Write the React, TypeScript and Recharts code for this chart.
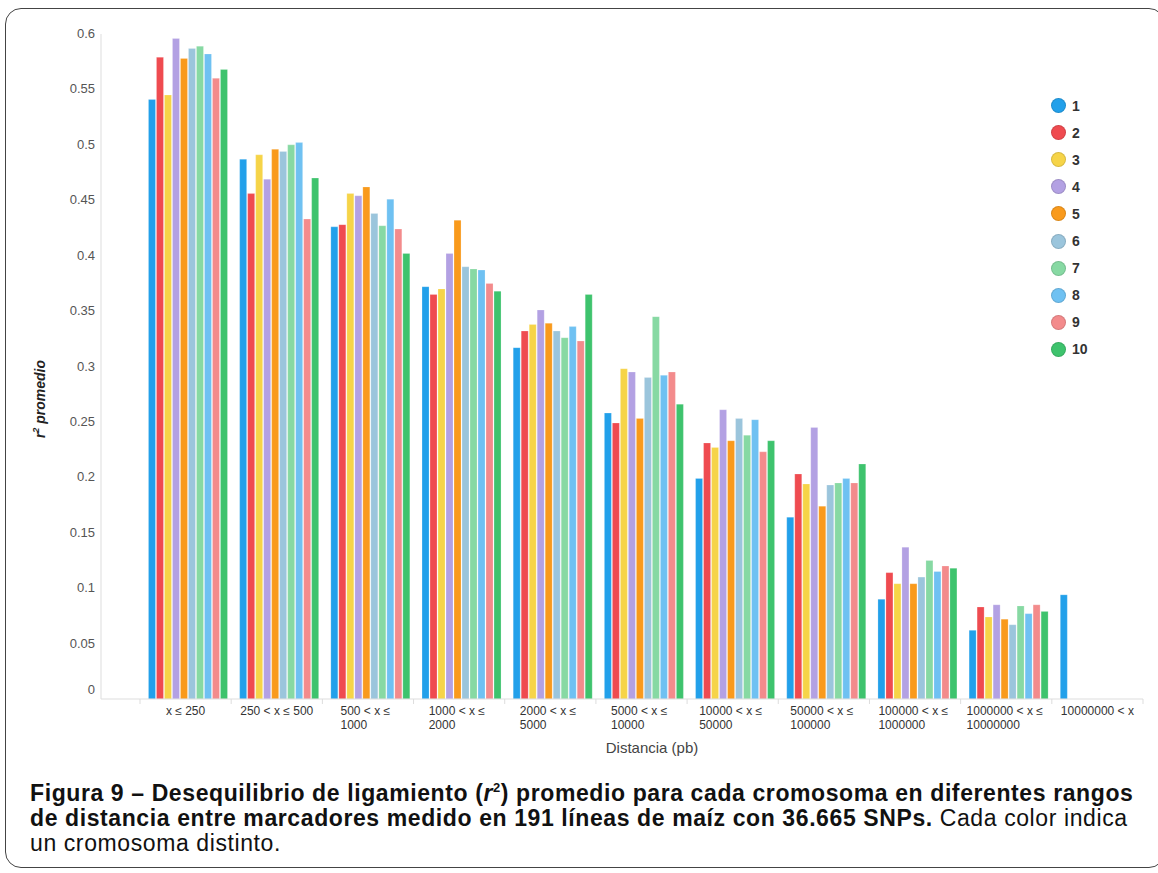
import React from 'react'
import { BarChart, Bar, XAxis, YAxis, Label } from 'recharts'

const categories = [
  'x ≤ 250',
  '250 < x ≤ 500',
  '500 < x ≤|1000',
  '1000 < x ≤|2000',
  '2000 < x ≤|5000',
  '5000 < x ≤|10000',
  '10000 < x ≤|50000',
  '50000 < x ≤|100000',
  '100000 < x ≤|1000000',
  '1000000 < x ≤|10000000',
  '10000000 < x',
]

const crom1 = [0.541, 0.487, 0.426, 0.372, 0.317, 0.258, 0.199, 0.164, 0.090, 0.062, 0.094]
const crom2 = [0.579, 0.456, 0.428, 0.365, 0.332, 0.249, 0.231, 0.203, 0.114, 0.083, null]
const crom3 = [0.545, 0.491, 0.456, 0.370, 0.338, 0.298, 0.227, 0.194, 0.104, 0.074, null]
const crom4 = [0.596, 0.469, 0.454, 0.402, 0.351, 0.295, 0.261, 0.245, 0.137, 0.085, null]
const crom5 = [0.578, 0.496, 0.462, 0.432, 0.339, 0.253, 0.233, 0.174, 0.104, 0.072, null]
const crom6 = [0.587, 0.494, 0.438, 0.390, 0.332, 0.290, 0.253, 0.193, 0.110, 0.067, null]
const crom7 = [0.589, 0.500, 0.427, 0.388, 0.326, 0.345, 0.238, 0.195, 0.125, 0.084, null]
const crom8 = [0.582, 0.502, 0.451, 0.387, 0.336, 0.292, 0.252, 0.199, 0.115, 0.077, null]
const crom9 = [0.560, 0.433, 0.424, 0.375, 0.323, 0.295, 0.223, 0.195, 0.120, 0.085, null]
const crom10 = [0.568, 0.470, 0.402, 0.368, 0.365, 0.266, 0.233, 0.212, 0.118, 0.079, null]

const seriesNames = ['1', '2', '3', '4', '5', '6', '7', '8', '9', '10']
const seriesValues = [crom1, crom2, crom3, crom4, crom5, crom6, crom7, crom8, crom9, crom10]
const colors = [
  '#22a0ea',
  '#ef4b50',
  '#f6d448',
  '#b3a1e3',
  '#f99a1c',
  '#9bc5dc',
  '#87d9a3',
  '#6fc1f2',
  '#f38b8c',
  '#3ec36d',
]

const yTicks = [0, 0.05, 0.1, 0.15, 0.2, 0.25, 0.3, 0.35, 0.4, 0.45, 0.5, 0.55, 0.6]

const data = categories.map((c, i) => {
  const row: Record<string, any> = { name: c }
  seriesNames.forEach((s, j) => {
    row['c' + s] = seriesValues[j][i]
  })
  return row
})

const FONT = '"Liberation Sans", Arial, sans-serif'

// plot geometry
const PLOT_LEFT = 101
const PLOT_RIGHT = 1143
const PAD_LEFT = 39
const BAND = (PLOT_RIGHT - PLOT_LEFT - PAD_LEFT) / categories.length

const XTick = (props: any) => {
  const { x, y, payload, index } = props
  const lines = String(payload.value).split('|')
  const maxLen = Math.max(...lines.map((l) => l.length))
  const w = maxLen * 6.1
  const isLast = index === categories.length - 1
  return (
    <g>
      <line x1={x - BAND / 2} x2={x - BAND / 2} y1={y - 4} y2={y + 1} stroke="#ddd" />
      {isLast && (
        <line x1={x + BAND / 2} x2={x + BAND / 2} y1={y - 4} y2={y + 1} stroke="#ddd" />
      )}
      <text
        x={lines.length > 1 ? x - w / 2 : x}
        y={y + 12}
        textAnchor={lines.length > 1 ? 'start' : 'middle'}
        fontSize={12}
        fill="#333"
        fontFamily={FONT}
      >
        {lines.map((l, i) => (
          <tspan key={i} x={lines.length > 1 ? x - w / 2 : x} dy={i === 0 ? 0 : 14}>
            {l}
          </tspan>
        ))}
      </text>
    </g>
  )
}

const YTick = (props: any) => {
  const { x, y, payload } = props
  return (
    <text
      x={x}
      y={payload.value === 0 ? y - 9 : y}
      dy={4}
      textAnchor="end"
      fontSize={13}
      fill="#555"
      fontFamily={FONT}
    >
      {String(payload.value)}
    </text>
  )
}

const YLabel = () => {
  const cx = 45
  const cy = 399
  return (
    <text
      x={cx}
      y={cy}
      transform={`rotate(-90, ${cx}, ${cy})`}
      textAnchor="middle"
      fontSize={14}
      fontWeight="bold"
      fontStyle="italic"
      fill="#222"
      fontFamily={FONT}
    >
      <tspan>r</tspan>
      <tspan fontSize={9} dy={-6}>2</tspan>
      <tspan dy={6}> promedio</tspan>
    </text>
  )
}

export default function App() {
  return (
    <div
      style={{
        position: 'absolute',
        left: 0,
        top: 0,
        width: 1158,
        height: 873,
        background: '#fff',
        fontFamily: FONT,
      }}
    >
      <div
        style={{
          position: 'absolute',
          left: 5,
          top: 8,
          width: 1160,
          height: 860,
          border: '1.5px solid #444',
          borderRadius: 16,
          boxSizing: 'border-box',
        }}
      />
      <div style={{ position: 'absolute', left: 0, top: 0 }}>
        <BarChart
          width={1158}
          height={770}
          data={data}
          margin={{ top: 34, right: 1158 - PLOT_RIGHT, left: 41, bottom: 11 }}
          barCategoryGap="9.3%"
          barGap={1}
        >
          <XAxis
            dataKey="name"
            interval={0}
            height={60}
            padding={{ left: PAD_LEFT, right: 0 }}
            stroke="#ddd"
            tickLine={false}
            tickSize={4}
            tickMargin={0}
            tick={<XTick />}
          >
            <Label
              value="Distancia (pb)"
              position="insideBottom"
              offset={6}
              dx={30}
              style={{ fontSize: 15, fill: '#444', fontFamily: FONT }}
            />
          </XAxis>
          <YAxis
            width={60}
            domain={[0, 0.6]}
            ticks={yTicks}
            interval={0}
            stroke="#ddd"
            tickLine={false}
            tickSize={0}
            tickMargin={6}
            tick={<YTick />}
          >
            <Label content={<YLabel />} />
          </YAxis>
          {seriesNames.map((s, j) => (
            <Bar
              key={s}
              dataKey={'c' + s}
              name={s}
              fill={colors[j]}
              stroke="rgba(255,255,255,0.35)"
              strokeWidth={0.6}
              isAnimationActive={false}
            />
          ))}
        </BarChart>
      </div>
      <div style={{ position: 'absolute', left: 1051, top: 92 }}>
        {seriesNames.map((s, j) => (
          <div
            key={s}
            style={{ display: 'flex', alignItems: 'center', height: 27.1 }}
          >
            <span
              style={{
                display: 'inline-block',
                width: 15,
                height: 15,
                borderRadius: '50%',
                background: colors[j],
                border: '1px solid rgba(0,0,0,0.12)',
                boxSizing: 'border-box',
              }}
            />
            <span style={{ marginLeft: 6, fontSize: 14, color: '#333', fontWeight: 'bold' }}>
              {s}
            </span>
          </div>
        ))}
      </div>
      <div
        style={{
          position: 'absolute',
          left: 30,
          top: 781,
          fontSize: 23,
          letterSpacing: 0.6,
          lineHeight: '25px',
          color: '#111',
          whiteSpace: 'nowrap',
        }}
      >
        <div>
          <b>
            Figura 9 – Desequilibrio de ligamiento (<i>r</i>
            <sup style={{ fontSize: 13, lineHeight: 0 }}>2</sup>) promedio para cada cromosoma en
            diferentes rangos
          </b>
        </div>
        <div>
          <b>de distancia entre marcadores medido en 191 líneas de maíz con 36.665 SNPs.</b> Cada
          color indica
        </div>
        <div>un cromosoma distinto.</div>
      </div>
    </div>
  )
}
